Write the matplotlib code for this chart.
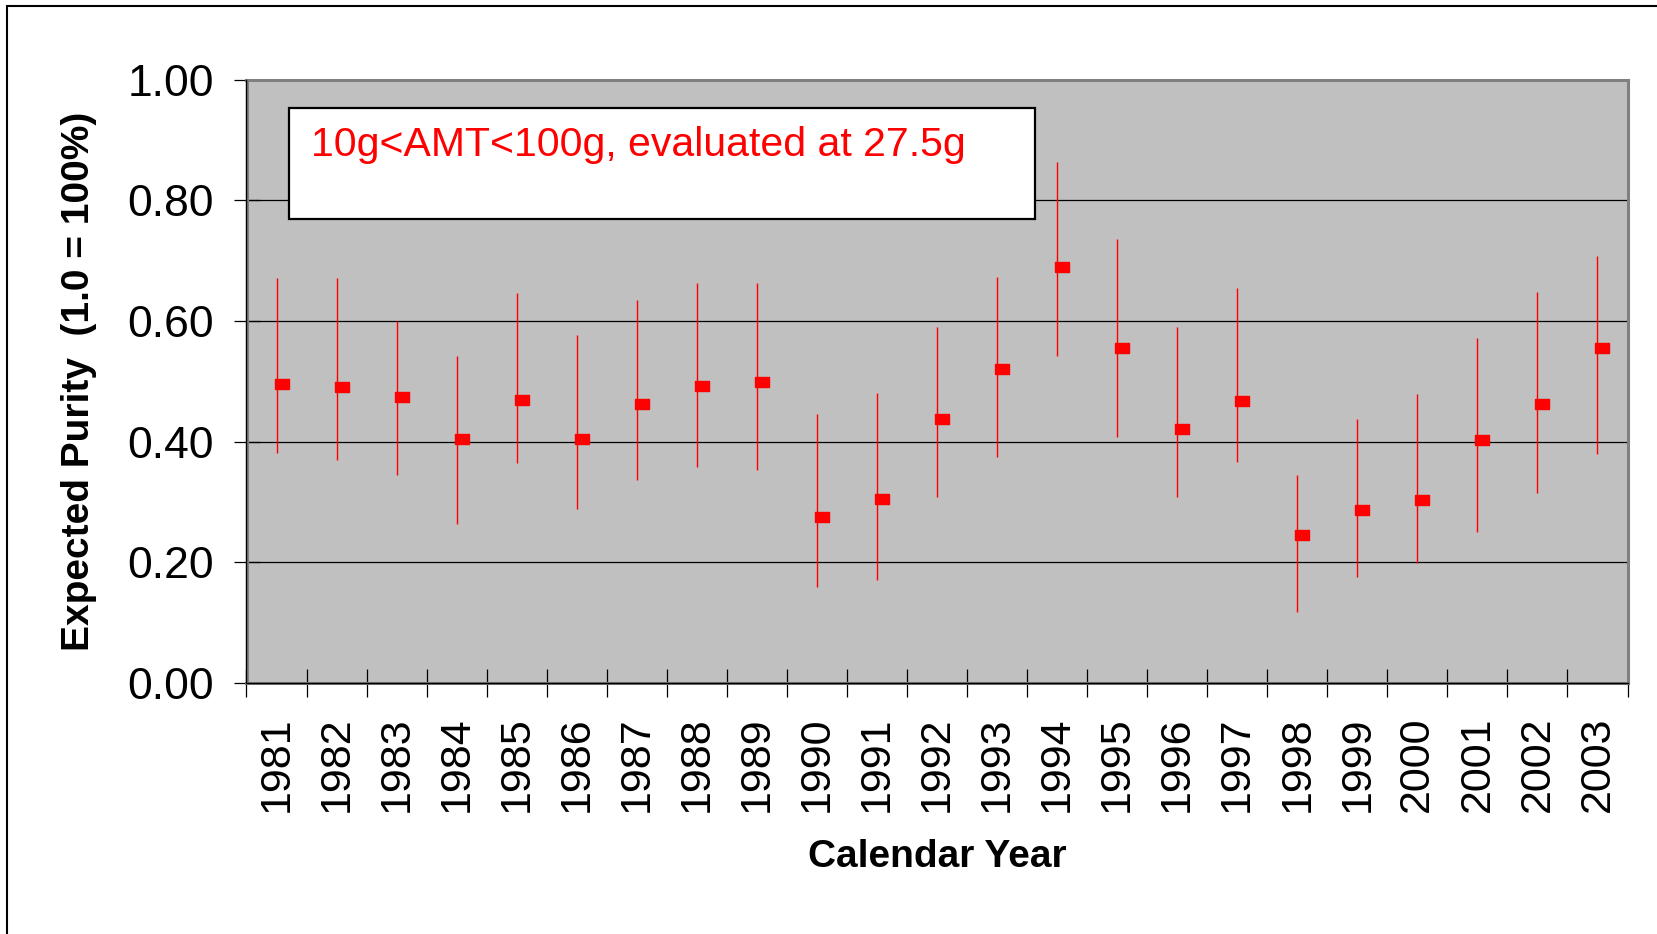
import matplotlib
matplotlib.use("Agg")
import matplotlib.pyplot as plt
from matplotlib.patches import Rectangle
from matplotlib.transforms import ScaledTranslation
from matplotlib.ticker import FixedLocator, FormatStrFormatter

plt.rcParams["font.family"] = ["Liberation Sans", "DejaVu Sans"]

years = [str(y) for y in range(1981, 2004)]
purity = [0.495, 0.490, 0.474, 0.405, 0.469, 0.405, 0.463, 0.492, 0.498,
          0.275, 0.305, 0.438, 0.520, 0.689, 0.555, 0.421, 0.467, 0.246,
          0.287, 0.304, 0.403, 0.462, 0.555]
upper = [0.671, 0.671, 0.600, 0.542, 0.647, 0.577, 0.635, 0.663, 0.663,
         0.445, 0.480, 0.590, 0.672, 0.864, 0.736, 0.590, 0.654, 0.345,
         0.438, 0.479, 0.572, 0.648, 0.707]
lower = [0.381, 0.369, 0.345, 0.263, 0.364, 0.288, 0.336, 0.358, 0.353,
         0.159, 0.170, 0.309, 0.374, 0.542, 0.408, 0.309, 0.367, 0.117,
         0.175, 0.199, 0.251, 0.315, 0.379]
yticks = [0.0, 0.2, 0.4, 0.6, 0.8, 1.0]

note = "10g<AMT<100g, evaluated at 27.5g"


def main():
    W, H = 1657, 934
    fig = plt.figure(figsize=(W / 100, H / 100), dpi=100)
    ax = fig.add_axes([246.5 / W, 1 - 683 / H, 1381 / W, 603.5 / H])
    ax.set_facecolor("#c0c0c0")

    x = list(range(len(years)))
    ax.set_xlim(-0.5, len(years) - 0.5)
    ax.set_ylim(0, 1)

    # grid + axes
    ax.set_yticks(yticks)
    ax.yaxis.set_major_formatter(FormatStrFormatter("%.2f"))
    ax.yaxis.grid(True, color="black", lw=0.9, zorder=1)
    ax.set_axisbelow(True)
    ax.tick_params(axis="y", direction="inout", length=19, width=0.9,
                   labelsize=32, pad=14)

    ax.set_xticks(x)
    ax.set_xticklabels(years, rotation=90)
    ax.xaxis.set_minor_locator(FixedLocator([i - 0.5 for i in range(len(years) + 1)]))
    ax.tick_params(axis="x", which="major", length=0, labelsize=31, pad=24)
    ax.tick_params(axis="x", which="minor", direction="inout", length=20, width=0.9)

    for s in ax.spines.values():
        s.set_color("#808080")
        s.set_linewidth(2.2)
    ax.axhline(0, color="black", lw=1.0, zorder=5, clip_on=False)
    ax.axvline(-0.5, color="black", lw=1.0, zorder=5, clip_on=False)

    # error bars and markers (marker sits a few px right of its bar, as in the original)
    ax.vlines(x, lower, upper, color="red", lw=1.0, zorder=3)
    shift = ax.transData + ScaledTranslation(5 / 100, 0, fig.dpi_scale_trans)
    box = [(-1.4, -1), (1.4, -1), (1.4, 1), (-1.4, 1), (-1.4, -1)]
    ax.plot(x, purity, linestyle="none", marker=box, markersize=10,
            color="red", transform=shift, zorder=4)

    # labels
    fig.text(79 / W, 1 - 381 / H, "Expected Purity  (1.0 = 100%)", rotation=90,
             ha="center", va="center", fontsize=28, fontweight="bold")
    fig.text(937 / W, 1 - 857 / H, "Calendar Year", ha="center", va="center",
             fontsize=28, fontweight="bold")

    # annotation box
    fig.patches.append(Rectangle((288.5 / W, 1 - 219 / H), 746 / W, 111 / H,
                                 transform=fig.transFigure, facecolor="white",
                                 edgecolor="black", lw=1.6, zorder=6))
    fig.text(311 / W, 1 - 156 / H, note, color="red", fontsize=29.5,
             ha="left", va="baseline", zorder=7)

    # outer chart border (runs off the right and bottom edge)
    fig.patches.append(Rectangle((7 / W, -0.1), 1.2, 1.1 - 6 / H,
                                 transform=fig.transFigure, fill=False,
                                 edgecolor="black", lw=1.5))

    fig.savefig("out.png", dpi=100)


if __name__ == "__main__":
    main()
